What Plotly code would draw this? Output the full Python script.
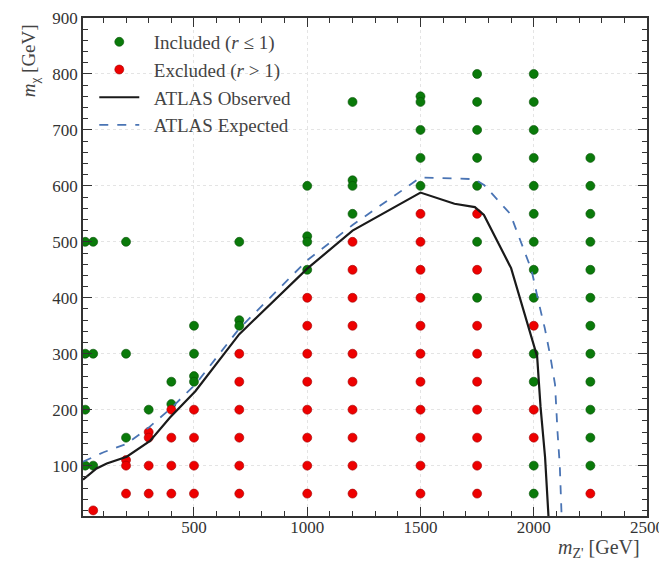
import plotly.graph_objects as go

# ---- data ----
inc_x = [20, 20, 20, 20,
         55, 55, 55,
         200, 200, 200,
         300,
         400, 400,
         500, 500, 500, 500,
         700, 700, 700,
         1000, 1000, 1000, 1000,
         1200, 1200, 1200, 1200,
         1500, 1500, 1500, 1500, 1500,
         1750, 1750, 1750, 1750, 1750, 1750, 1750,
         2000, 2000, 2000, 2000, 2000, 2000, 2000, 2000, 2000, 2000, 2000, 2000, 2000,
         2250, 2250, 2250, 2250, 2250, 2250, 2250, 2250, 2250, 2250, 2250, 2250]
inc_y = [500, 300, 200, 100,
         500, 300, 100,
         500, 300, 150,
         200,
         250, 210,
         350, 300, 260, 250,
         500, 360, 350,
         600, 510, 500, 450,
         750, 610, 600, 550,
         760, 750, 700, 650, 600,
         800, 750, 700, 650, 600, 500, 400,
         800, 750, 700, 650, 600, 550, 500, 450, 400, 300, 250, 100, 50,
         650, 600, 550, 500, 450, 400, 350, 300, 250, 200, 150, 100]

exc_x = [55,
         200, 200, 200,
         300, 300, 300, 300,
         400, 400, 400, 400,
         500, 500, 500, 500,
         700, 700, 700, 700, 700, 700,
         1000, 1000, 1000, 1000, 1000, 1000, 1000, 1000,
         1200, 1200, 1200, 1200, 1200, 1200, 1200, 1200, 1200, 1200,
         1500, 1500, 1500, 1500, 1500, 1500, 1500, 1500, 1500, 1500, 1500,
         1750, 1750, 1750, 1750, 1750, 1750, 1750, 1750, 1750,
         2000, 2000, 2000,
         2250]
exc_y = [20,
         110, 100, 50,
         160, 150, 100, 50,
         200, 150, 100, 50,
         200, 150, 100, 50,
         300, 250, 200, 150, 100, 50,
         400, 350, 300, 250, 200, 150, 100, 50,
         500, 450, 400, 350, 300, 250, 200, 150, 100, 50,
         550, 500, 450, 400, 350, 300, 250, 200, 150, 100, 50,
         550, 450, 350, 300, 250, 200, 150, 100, 50,
         350, 200, 150,
         50]

obs_x = [10, 70, 115, 203, 306, 394, 506, 700, 1000, 1200, 1500, 1650, 1740, 1780, 1900, 2005, 2015, 2030, 2050, 2065]
obs_y = [75, 95, 104, 116, 144, 186, 233, 335, 452, 520, 588, 568, 562, 548, 453, 305, 295, 205, 115, 10]

exp_x = [10, 101, 203, 300, 402, 506, 700, 1000, 1200, 1500, 1740, 1782, 1896, 1990, 2021, 2049, 2072, 2094, 2105, 2115, 2123]
exp_y = [107, 124, 139, 168, 204, 245, 345, 467, 530, 615, 612, 601, 550, 450, 393, 345, 298, 245, 160, 100, 10]

x_ticks = [500, 1000, 1500, 2000, 2500]
y_ticks = [100, 200, 300, 400, 500, 600, 700, 800, 900]

FONT = "Liberation Serif, DejaVu Serif, serif"
PAD = "\u2002"

fig = go.Figure()
fig.add_trace(go.Scatter(x=inc_x, y=inc_y, mode="markers", name=PAD + "Included (<i>r</i> ≤ 1)",
                         marker=dict(color="#0a7a0a", size=9, line=dict(color="#065006", width=0.6))))
fig.add_trace(go.Scatter(x=exc_x, y=exc_y, mode="markers", name=PAD + "Excluded (<i>r</i> > 1)",
                         marker=dict(color="#ee0000", size=9, line=dict(color="#a00000", width=0.6))))
fig.add_trace(go.Scatter(x=obs_x, y=obs_y, mode="lines", name=PAD + "ATLAS Observed",
                         line=dict(color="#1a1a1a", width=2.2)))
fig.add_trace(go.Scatter(x=exp_x, y=exp_y, mode="lines", name=PAD + "ATLAS Expected",
                         line=dict(color="#4a74b4", width=1.8, dash="dash")))

axis_common = dict(
    showline=True, linecolor="#333333", linewidth=1.5, mirror="allticks",
    ticks="inside", ticklen=9, tickwidth=1.3, tickcolor="#333333",
    showgrid=True, gridcolor="#e4e4e4", griddash="dot", gridwidth=1,
    zeroline=False, automargin=False, ticklabeloverflow="allow",
    tickfont=dict(family=FONT, size=17, color="#333333"),
)

fig.update_xaxes(range=[10, 2500], tickvals=x_ticks, ticklabelstandoff=-5,
                 minor=dict(dtick=100, tick0=0, ticks="inside", ticklen=5, tickcolor="#333333", showgrid=False),
                 **axis_common)
fig.update_yaxes(range=[10, 900], tickvals=y_ticks,
                 minor=dict(dtick=20, tick0=0, ticks="inside", ticklen=5, tickcolor="#333333", showgrid=False),
                 **axis_common)

fig.add_annotation(text="<i>m</i><sub>χ</sub> [GeV]", xref="paper", yref="paper",
                   x=-0.094, y=0.915, textangle=-90, showarrow=False,
                   xanchor="center", yanchor="middle",
                   font=dict(family=FONT, size=19, color="#444444"))
fig.add_annotation(text="<i>m</i><sub>Z'</sub> [GeV]", xref="paper", yref="paper",
                   x=0.915, y=-0.066, showarrow=False,
                   xanchor="center", yanchor="middle",
                   font=dict(family=FONT, size=20, color="#444444"))

fig.update_layout(
    width=659, height=558,
    margin=dict(l=75, r=20, t=10, b=50, autoexpand=False),
    plot_bgcolor="white", paper_bgcolor="white",
    font=dict(family=FONT),
    showlegend=True,
    legend=dict(x=0.02, y=0.99, xanchor="left", yanchor="top",
                bgcolor="rgba(255,255,255,0)", borderwidth=0,
                font=dict(family=FONT, size=19, color="#444444"),
                tracegroupgap=0, itemwidth=40),
)

fig.write_html("out.html")
